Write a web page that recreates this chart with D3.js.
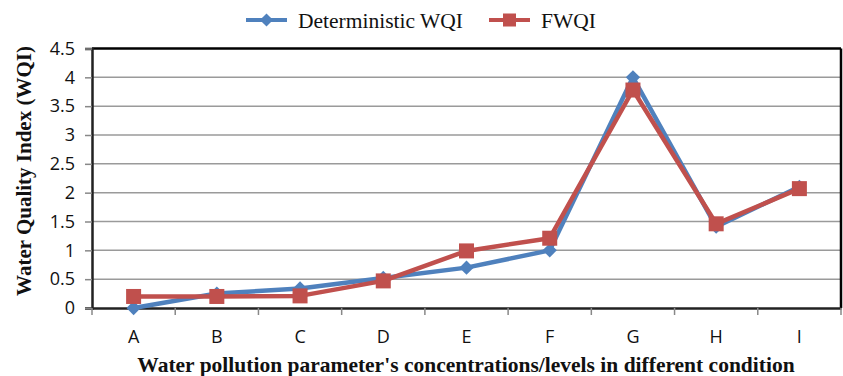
<!DOCTYPE html>
<html>
<head>
<meta charset="utf-8">
<script src="https://cdn.jsdelivr.net/npm/d3@7"></script>
<style>
  html, body { margin: 0; padding: 0; background: #fff; }
  svg { display: block; }
</style>
</head>
<body>
<svg id="chart" width="843" height="376"></svg>
<script>
// Categories and series values
const categories = ["A", "B", "C", "D", "E", "F", "G", "H", "I"];
const deterministicWQI = [0, 0.25, 0.34, 0.52, 0.70, 1.00, 4.00, 1.41, 2.10];
const fuzzyWQI = [0.20, 0.20, 0.21, 0.47, 0.99, 1.21, 3.78, 1.46, 2.07];
const yTicks = [0, 0.5, 1, 1.5, 2, 2.5, 3, 3.5, 4, 4.5];
const seriesNames = ["Deterministic WQI", "FWQI"];

const svg = d3.select("#chart");
const plot = { left: 92, right: 841, top: 48.5, bottom: 308 };

const x = d3.scaleBand().domain(categories).range([plot.left, plot.right]);
const y = d3.scaleLinear().domain([0, 4.5]).range([plot.bottom, plot.top]);

const serif = "'Liberation Serif', 'Times New Roman', serif";
const sans = "'Open Sans', 'Liberation Sans', sans-serif";

// Horizontal gridlines
svg.append("g")
  .selectAll("line")
  .data(yTicks.filter(t => t > 0 && t < 4.5))
  .join("line")
  .attr("x1", plot.left).attr("x2", plot.right)
  .attr("y1", d => y(d)).attr("y2", d => y(d))
  .attr("stroke", "#9a9a9a").attr("stroke-width", 1.5);

// Frame on top and right
svg.append("line")
  .attr("x1", plot.left).attr("x2", plot.right)
  .attr("y1", plot.top).attr("y2", plot.top)
  .attr("stroke", "#000").attr("stroke-width", 2.5);
svg.append("line")
  .attr("x1", plot.right).attr("x2", plot.right)
  .attr("y1", plot.top).attr("y2", plot.bottom)
  .attr("stroke", "#000").attr("stroke-width", 2.5);

// Y axis
const yAxis = svg.append("g")
  .attr("transform", `translate(${plot.left},0)`)
  .call(d3.axisLeft(y).tickValues(yTicks).tickSize(7).tickPadding(10)
    .tickFormat(d => String(d)));
yAxis.select(".domain").attr("stroke", "#222").attr("stroke-width", 2.5);
yAxis.selectAll(".tick line").attr("stroke", "#888").attr("stroke-width", 1.5);
yAxis.selectAll(".tick text")
  .attr("font-family", sans).attr("font-size", 18).attr("fill", "#111");

// X axis with ticks on band boundaries
const xAxis = svg.append("g")
  .attr("transform", `translate(0,${plot.bottom})`)
  .call(d3.axisBottom(x).tickSize(0).tickPadding(22));
xAxis.select(".domain").attr("stroke", "#222").attr("stroke-width", 2.5);
xAxis.selectAll(".tick text")
  .attr("font-family", sans).attr("font-size", 18).attr("fill", "#111");
const bounds = categories.map(c => x(c)).concat([x(categories[categories.length - 1]) + x.bandwidth()]);
xAxis.append("g").selectAll("line")
  .data(bounds)
  .join("line")
  .attr("x1", d => d).attr("x2", d => d)
  .attr("y1", 0).attr("y2", 7)
  .attr("stroke", "#888").attr("stroke-width", 1.5);

// Series
const cx = c => x(c) + x.bandwidth() / 2;
const line = d3.line().x(d => cx(d.c)).y(d => y(d.v));
const blue = "#4F81BD", red = "#C0504D";

const detData = categories.map((c, i) => ({ c, v: deterministicWQI[i] }));
const fuzData = categories.map((c, i) => ({ c, v: fuzzyWQI[i] }));

svg.append("path").datum(detData).attr("d", line)
  .attr("fill", "none").attr("stroke", blue).attr("stroke-width", 4.5)
  .attr("stroke-linejoin", "round");
svg.append("g").selectAll("path").data(detData).join("path")
  .attr("d", d3.symbol(d3.symbolDiamond2, 130))
  .attr("transform", d => `translate(${cx(d.c)},${y(d.v)})`)
  .attr("fill", blue);

svg.append("path").datum(fuzData).attr("d", line)
  .attr("fill", "none").attr("stroke", red).attr("stroke-width", 4.5)
  .attr("stroke-linejoin", "round");
svg.append("g").selectAll("rect").data(fuzData).join("rect")
  .attr("x", d => cx(d.c) - 7.5).attr("y", d => y(d.v) - 7.5)
  .attr("width", 15).attr("height", 15)
  .attr("fill", red);

// Legend
const legend = svg.append("g");
const legendItems = [
  { name: seriesNames[0], color: blue, x0: 246, type: "diamond" },
  { name: seriesNames[1], color: red, x0: 489, type: "square" }
];
legendItems.forEach(it => {
  const g = legend.append("g").attr("transform", `translate(${it.x0},20)`);
  g.append("line").attr("x1", 0).attr("x2", 41).attr("y1", 0).attr("y2", 0)
    .attr("stroke", it.color).attr("stroke-width", 4);
  if (it.type === "diamond") {
    g.append("path").attr("d", d3.symbol(d3.symbolDiamond2, 110))
      .attr("transform", "translate(20.5,0)").attr("fill", it.color);
  } else {
    g.append("rect").attr("x", 14).attr("y", -6.5).attr("width", 13).attr("height", 13)
      .attr("fill", it.color);
  }
  g.append("text").attr("x", 52).attr("y", 7.5)
    .attr("font-family", serif).attr("font-size", 21.5).attr("fill", "#111")
    .text(it.name);
});

// Axis titles
svg.append("text")
  .attr("transform", `translate(31,171) rotate(-90)`)
  .attr("text-anchor", "middle")
  .attr("font-family", serif).attr("font-weight", "bold").attr("font-size", 21)
  .attr("fill", "#111")
  .text("Water Quality Index (WQI)");

svg.append("text")
  .attr("x", 466).attr("y", 372)
  .attr("text-anchor", "middle")
  .attr("font-family", serif).attr("font-weight", "bold").attr("font-size", 21.5)
  .attr("fill", "#111")
  .text("Water pollution parameter's concentrations/levels in different condition");
</script>
</body>
</html>
